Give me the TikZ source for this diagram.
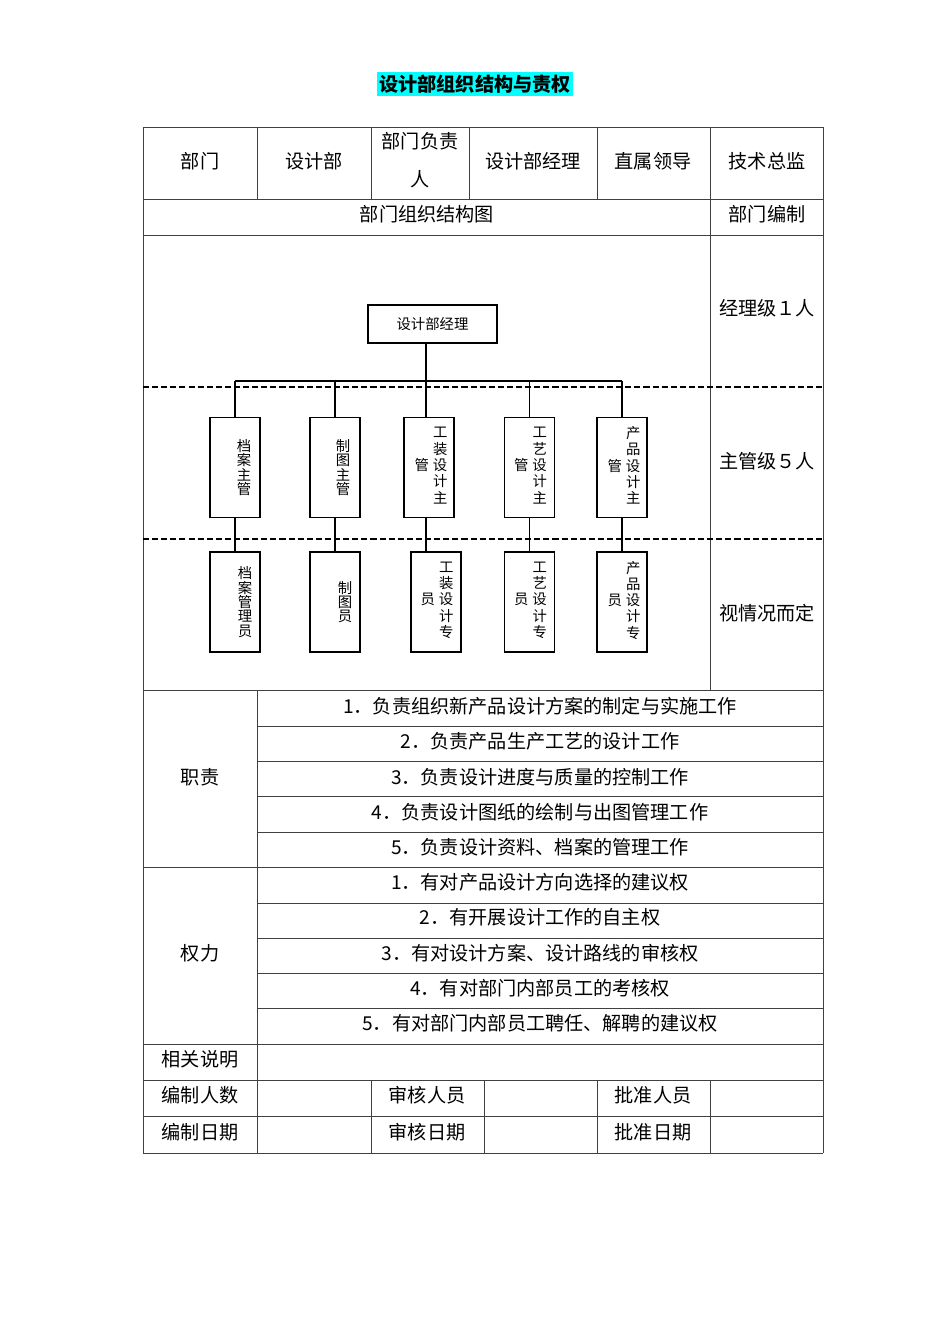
\documentclass[tikz,border=0pt]{standalone}
\usepackage{fontspec}
\setmainfont{Noto Sans CJK SC}
\definecolor{titlemark}{RGB}{0,255,255}
\newcommand\colorTablerule{black!75}
\newcommand\colorChartbox{black}
\newcommand\pxu{0.6264pt}

\begin{document}
\begin{tikzpicture}[x=0.6264pt,y=-0.6264pt,
		cell/.style={inner sep=0pt,font=\fontsize{12}{14}\selectfont},
		chartbox/.style={draw=\colorChartbox,line width=0.7pt,inner sep=0pt,font=\fontsize{9}{9}\selectfont},
		boxtext/.style={inner sep=0pt,align=center,font=\fontsize{9}{9}\selectfont},
		link/.style={draw=\colorChartbox,line width=0.7pt}]
		\useasboundingbox (0,0) rectangle (950,1344);
	
		\node[cell,font=\fontsize{12}{14}\selectfont\bfseries,fill=titlemark,inner xsep=1.2pt,inner ysep=1.5pt] (title) at (475,84) {设计部组织结构与责权};
	
		\foreach \y in {127,199,235,690,867,1044,1080,1116,1153}{
			\draw[color=\colorTablerule,line width=0.6pt] (143,\y) to (823,\y);
		}
		\foreach \y in {726,761,796,832,903,938,973,1008}{
			\draw[color=\colorTablerule,line width=0.6pt] (257,\y) to (823,\y);
		}
		\foreach \x in {257,371,469,597}{
			\draw[color=\colorTablerule,line width=0.6pt] (\x,127) to (\x,199);
		}
		\foreach \x in {371,484,597,710}{
			\draw[color=\colorTablerule,line width=0.6pt] (\x,1080) to (\x,1153);
		}
		\draw[color=\colorTablerule,line width=0.6pt] (143,127) to (143,1153);
		\draw[color=\colorTablerule,line width=0.6pt] (823,127) to (823,1153);
		\draw[color=\colorTablerule,line width=0.6pt] (710,127) to (710,690);
		\draw[color=\colorTablerule,line width=0.6pt] (257,690) to (257,1153);
		\foreach \y in {387,539}{
			\draw[dash pattern=on 3.8pt off 1.9pt,line width=0.7pt] (143,\y) to (823,\y);
		}
	
		\node[cell] (dept) at (200,161) {部门};
		\node[cell] (deptname) at (314,161) {设计部};
		\node[cell,align=center,font=\fontsize{12}{23.8}\selectfont] (head) at (420,160) {部门负责\\人};
		\node[cell] (headname) at (533,161) {设计部经理};
		\node[cell] (lead) at (653,161) {直属领导};
		\node[cell] (leadname) at (767,161) {技术总监};
		\node[cell] (chart) at (427,214) {部门组织结构图};
		\node[cell] (quota) at (767,214) {部门编制};
		\node[cell] (quota1) at (767,308) {经理级１人};
		\node[cell] (quota2) at (767,461) {主管级５人};
		\node[cell] (quota3) at (767,613) {视情况而定};
	
		\node[cell] (duty) at (200,777) {职责};
		\foreach \t [count=\i] in {1．负责组织新产品设计方案的制定与实施工作,2．负责产品生产工艺的设计工作,3．负责设计进度与质量的控制工作,4．负责设计图纸的绘制与出图管理工作,5．负责设计资料、档案的管理工作}{
			\node[cell] (duty\i) at (540,{671+35.25*\i}) {\t};
		}
		\node[cell] (power) at (200,953) {权力};
		\foreach \t [count=\i] in {1．有对产品设计方向选择的建议权,2．有开展设计工作的自主权,3．有对设计方案、设计路线的审核权,4．有对部门内部员工的考核权,5．有对部门内部员工聘任、解聘的建议权}{
			\node[cell] (power\i) at (540,{847+35.25*\i}) {\t};
		}
	
		\node[cell] (note) at (200,1059) {相关说明};
		\node[cell] (staff) at (200,1095) {编制人数};
		\node[cell] (checker) at (427,1095) {审核人员};
		\node[cell] (approver) at (653,1095) {批准人员};
		\node[cell] (staffdate) at (200,1132) {编制日期};
		\node[cell] (checkdate) at (427,1132) {审核日期};
		\node[cell] (approvedate) at (653,1132) {批准日期};
	
		\node[chartbox,minimum width=129*\pxu,minimum height=38*\pxu] (mgr) at (432.5,324) {设计部经理};
	
		\foreach \n/\x in {1/235,2/335,3/429,4/529.5,5/622}{
			\node[chartbox,minimum width=50*\pxu,minimum height=100*\pxu] (s\n) at (\x,467.5) {};
		}
		\foreach \n/\x in {1/235,2/335,3/436,4/529.5,5/622}{
			\node[chartbox,minimum width=50*\pxu,minimum height=100*\pxu] (e\n) at (\x,602) {};
		}
	
		\node[boxtext,xshift=9*\pxu] (s1txt) at (s1) {档\\案\\主\\管};
		\node[boxtext,xshift=8*\pxu] (s2txt) at (s2) {制\\图\\主\\管};
		\node[boxtext,xshift=2*\pxu] (s3txt) at (s3) {\begin{tabular}{@{}c@{\hspace{2.5pt}}c@{}}&工\\&装\\管&设\\&计\\&主\end{tabular}};
		\node[boxtext,xshift=1*\pxu] (s4txt) at (s4) {\begin{tabular}{@{}c@{\hspace{2.5pt}}c@{}}&工\\&艺\\管&设\\&计\\&主\end{tabular}};
		\node[boxtext,xshift=2*\pxu] (s5txt) at (s5) {\begin{tabular}{@{}c@{\hspace{2.5pt}}c@{}}&产\\&品\\管&设\\&计\\&主\end{tabular}};
		\node[boxtext,xshift=10*\pxu] (e1txt) at (e1) {档\\案\\管\\理\\员};
		\node[boxtext,xshift=10*\pxu] (e2txt) at (e2) {制\\图\\员};
		\node[boxtext,xshift=1*\pxu] (e3txt) at (e3) {\begin{tabular}{@{}c@{\hspace{2.5pt}}c@{}}&工\\&装\\员&设\\&计\\&专\end{tabular}};
		\node[boxtext,xshift=1*\pxu] (e4txt) at (e4) {\begin{tabular}{@{}c@{\hspace{2.5pt}}c@{}}&工\\&艺\\员&设\\&计\\&专\end{tabular}};
		\node[boxtext,xshift=2*\pxu] (e5txt) at (e5) {\begin{tabular}{@{}c@{\hspace{2.5pt}}c@{}}&产\\&品\\员&设\\&计\\&专\end{tabular}};
	
		\coordinate (bus) at (426,381);
		\draw[link] (mgr.south -| bus) to (bus |- s3.north);
		\draw[link] (s1.north |- bus) to (s5.north |- bus);
		\foreach \n in {1,2,4,5}{
			\draw[link] (s\n.north |- bus) to (s\n.north);
			\draw[link] (s\n.south) to (s\n.south |- e\n.north);
		}
		\draw[link] (s3.south -| bus) to (bus |- e3.north);
	\end{tikzpicture}
\end{document}
